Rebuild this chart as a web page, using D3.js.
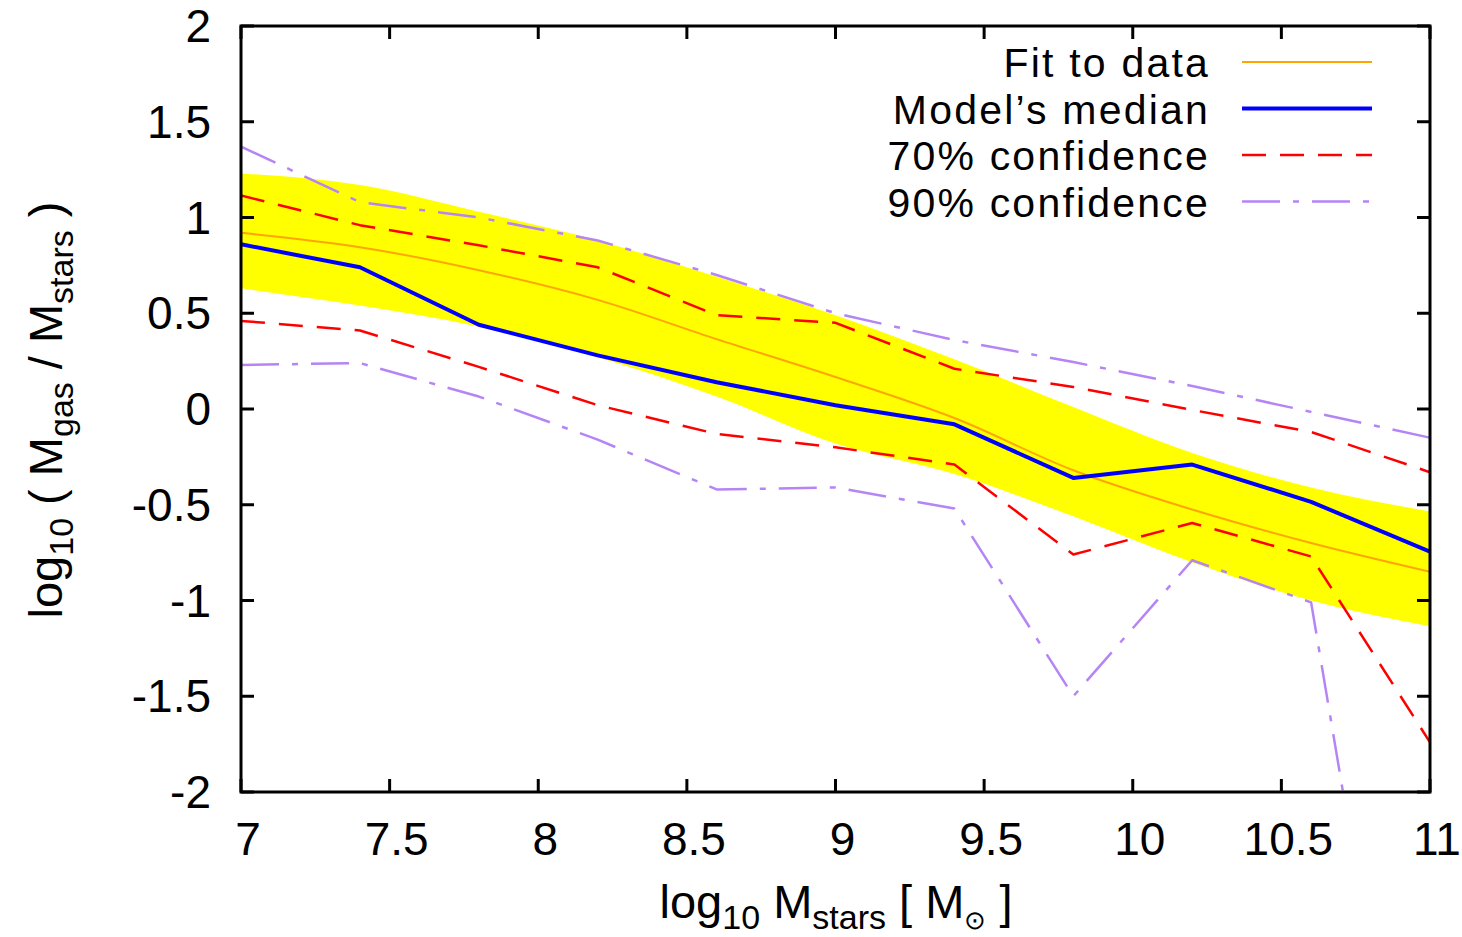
<!DOCTYPE html>
<html>
<head>
<meta charset="utf-8">
<script src="https://cdn.jsdelivr.net/npm/d3@7/dist/d3.min.js"></script>
<style>
  html, body { margin: 0; padding: 0; background: #ffffff; }
  svg { display: block; }
  text { font-family: "Liberation Sans", Arial, Helvetica, sans-serif; fill: #000; }
</style>
</head>
<body>
<svg id="chart" width="1462" height="937"></svg>
<script>
// log10 stellar mass bins
const massBins = [7.0, 7.4, 7.8, 8.2, 8.6, 9.0, 9.4, 9.8, 10.2, 10.6, 11.0];

// observational fit and its scatter band
const fitToData = [0.92, 0.845, 0.725, 0.57, 0.365, 0.167, -0.047, -0.32, -0.525, -0.70, -0.85];
const bandUpper = [1.23, 1.17, 1.03, 0.88, 0.69, 0.49, 0.26, 0.01, -0.23, -0.41, -0.535];
const bandLower = [0.63, 0.54, 0.43, 0.27, 0.065, -0.18, -0.34, -0.56, -0.80, -1.0, -1.135];

// model percentiles
const modelMedian = [0.86, 0.74, 0.44, 0.28, 0.14, 0.02, -0.08, -0.36, -0.29, -0.485, -0.745];
const conf70Upper = [1.115, 0.96, 0.855, 0.74, 0.49, 0.45, 0.21, 0.115, -0.005, -0.12, -0.33];
const conf70Lower = [0.46, 0.41, 0.22, 0.02, -0.13, -0.20, -0.29, -0.76, -0.595, -0.77, -1.74];
const conf90Upper = [1.37, 1.08, 1.0, 0.88, 0.70, 0.50, 0.36, 0.245, 0.12, -0.015, -0.15];
const conf90Lower = [0.23, 0.24, 0.065, -0.16, -0.42, -0.41, -0.52, -1.50, -0.79, -1.01, -4.7];

// axis ticks
const xTicks = [7, 7.5, 8, 8.5, 9, 9.5, 10, 10.5, 11];
const yTicks = [-2, -1.5, -1, -0.5, 0, 0.5, 1, 1.5, 2];

const legendItems = [
  { label: "Fit to data",      color: "#ffa500", width: 2,   dash: null },
  { label: "Model\u2019s median", color: "#0000ff", width: 4,   dash: null },
  { label: "70% confidence",   color: "#ff0000", width: 2.5, dash: "24,14" },
  { label: "90% confidence",   color: "#b585f5", width: 2.5, dash: "38,13,6,13" }
];

const svg = d3.select("#chart");
const plot = { left: 241, right: 1430, top: 26, bottom: 792 };

const x = d3.scaleLinear().domain([7, 11]).range([plot.left, plot.right]);
const y = d3.scaleLinear().domain([-2, 2]).range([plot.bottom, plot.top]);

// plain hyphen for negative tick labels
const fmt = d => String(d).replace("\u2212", "-");

svg.append("defs").append("clipPath").attr("id", "plotClip")
  .append("rect")
  .attr("x", plot.left).attr("y", plot.top)
  .attr("width", plot.right - plot.left).attr("height", plot.bottom - plot.top);

const dataLayer = svg.append("g").attr("clip-path", "url(#plotClip)");

// scatter band of the fit
const band = d3.area()
  .x((d, i) => x(massBins[i]))
  .y0((d, i) => y(bandLower[i]))
  .y1((d, i) => y(bandUpper[i]))
  .curve(d3.curveMonotoneX);
dataLayer.append("path").datum(massBins).attr("d", band).attr("fill", "#ffff00");

function lineOf(values, curve) {
  return d3.line()
    .x((d, i) => x(massBins[i]))
    .y((d, i) => y(values[i]))
    .curve(curve || d3.curveLinear)(values);
}

function drawSeries(values, style, curve) {
  dataLayer.append("path")
    .attr("d", lineOf(values, curve))
    .attr("fill", "none")
    .attr("stroke", style.color)
    .attr("stroke-width", style.width)
    .attr("stroke-dasharray", style.dash)
    .attr("stroke-linejoin", "round");
}

drawSeries(conf90Upper, legendItems[3]);
drawSeries(conf90Lower, legendItems[3]);
drawSeries(conf70Upper, legendItems[2]);
drawSeries(conf70Lower, legendItems[2]);
drawSeries(fitToData, legendItems[0], d3.curveMonotoneX);
drawSeries(modelMedian, legendItems[1]);

// frame with inward ticks on all four sides
const tickLen = 13;
const axes = svg.append("g").attr("stroke", "#000").attr("stroke-width", 3);
axes.append("rect")
  .attr("x", plot.left).attr("y", plot.top)
  .attr("width", plot.right - plot.left).attr("height", plot.bottom - plot.top)
  .attr("fill", "none");

xTicks.forEach(t => {
  axes.append("line").attr("x1", x(t)).attr("x2", x(t))
    .attr("y1", plot.bottom).attr("y2", plot.bottom - tickLen);
  axes.append("line").attr("x1", x(t)).attr("x2", x(t))
    .attr("y1", plot.top).attr("y2", plot.top + tickLen);
});
yTicks.forEach(t => {
  axes.append("line").attr("x1", plot.left).attr("x2", plot.left + tickLen)
    .attr("y1", y(t)).attr("y2", y(t));
  axes.append("line").attr("x1", plot.right).attr("x2", plot.right - tickLen)
    .attr("y1", y(t)).attr("y2", y(t));
});

const fs = 46;
const subFs = 34;
svg.append("g").selectAll("text").data(xTicks).join("text")
  .attr("x", d => x(d) + 7).attr("y", 855)
  .attr("text-anchor", "middle").attr("font-size", fs)
  .text(fmt);

svg.append("g").selectAll("text").data(yTicks).join("text")
  .attr("x", 211).attr("y", d => y(d) + 16)
  .attr("text-anchor", "end").attr("font-size", fs)
  .text(fmt);

// axis titles with subscripts
const xTitle = svg.append("text").attr("x", 836).attr("y", 918)
  .attr("text-anchor", "middle").attr("font-size", 47);
xTitle.append("tspan").text("log");
xTitle.append("tspan").attr("font-size", subFs).attr("dy", 11).text("10");
xTitle.append("tspan").attr("dy", -11).text(" M");
xTitle.append("tspan").attr("font-size", subFs).attr("dy", 11).text("stars");
xTitle.append("tspan").attr("dy", -11).text(" [ M");
xTitle.append("tspan").attr("font-size", 26).attr("dy", 11).text("\u2299");
xTitle.append("tspan").attr("dy", -11).text(" ]");

const yTitle = svg.append("text")
  .attr("transform", "translate(62,410) rotate(-90)")
  .attr("text-anchor", "middle").attr("font-size", 47);
yTitle.append("tspan").text("log");
yTitle.append("tspan").attr("font-size", subFs).attr("dy", 11).text("10");
yTitle.append("tspan").attr("dy", -11).text(" ( M");
yTitle.append("tspan").attr("font-size", subFs).attr("dy", 11).text("gas");
yTitle.append("tspan").attr("dy", -11).text(" / M");
yTitle.append("tspan").attr("font-size", subFs).attr("dy", 11).text("stars");
yTitle.append("tspan").attr("dy", -11).text(" )");

// legend
const legend = svg.append("g");
legendItems.forEach((item, i) => {
  const ly = 62 + i * 46.5;
  legend.append("text")
    .attr("x", 1210).attr("y", ly + 15)
    .attr("text-anchor", "end").attr("font-size", 41)
    .attr("letter-spacing", 2.2)
    .text(item.label);
  legend.append("line")
    .attr("x1", 1242).attr("x2", 1372).attr("y1", ly).attr("y2", ly)
    .attr("stroke", item.color).attr("stroke-width", item.width)
    .attr("stroke-dasharray", item.dash);
});
</script>
</body>
</html>
